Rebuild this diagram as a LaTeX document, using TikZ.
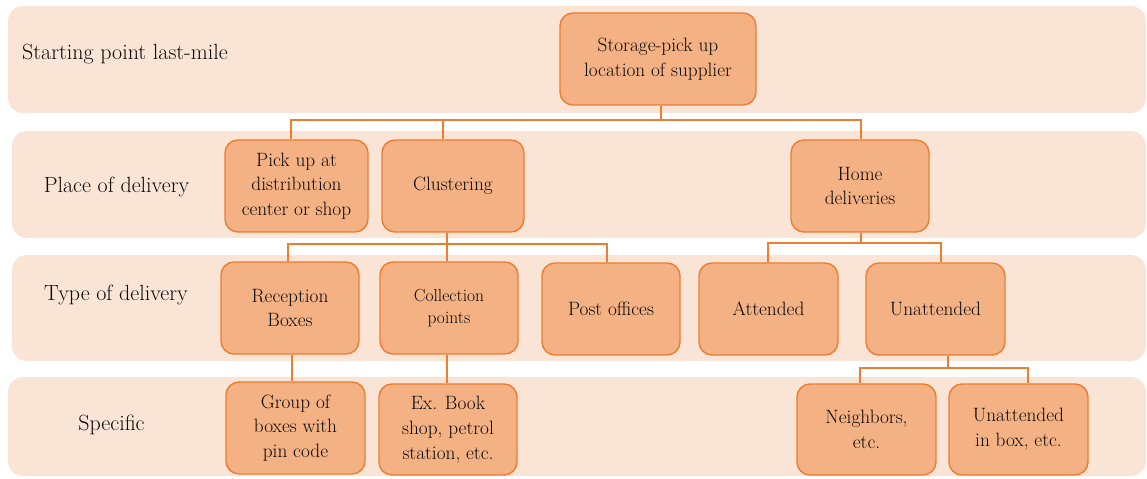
\documentclass[tikz,border=0pt]{standalone}
\definecolor{bandfill}{HTML}{FAE4D6}
\definecolor{nodefill}{HTML}{F4B183}
\definecolor{edgeline}{HTML}{ED7D31}
\definecolor{inktext}{HTML}{0A0A0A}
\begin{document}
\begin{tikzpicture}[x=1bp,y=-1bp,
  band/.style={fill=bandfill, draw=none, rounded corners=15bp},
  box/.style={draw=edgeline, fill=nodefill, line width=1.4bp, rounded corners=13bp,
    inner sep=0pt, align=center, minimum height=92bp, text=inktext,
    font=\fontsize{19.3bp}{24.7bp}\selectfont},
  rowlabel/.style={inner sep=0pt, text=inktext, font=\fontsize{22bp}{26bp}\selectfont},
  conn/.style={draw=edgeline, line width=2bp}]
\useasboundingbox (0,0) rectangle (1147,479);

% level bands
\fill[band] (8,6) rectangle (1146,113);
\fill[band] (12,131) rectangle (1146,238);
\fill[band] (12,255) rectangle (1146,361);
\fill[band] (8,377) rectangle (1146,476);

% row titles
\node[rowlabel, anchor=west] (l1) at (22,54) {Starting point last-mile};
\node[rowlabel] (l2) at (116.5,187) {Place of delivery};
\node[rowlabel] (l3) at (116,295) {Type of delivery};
\node[rowlabel] (l4) at (111.5,425) {Specific};

% boxes
\node[box, minimum width=196bp] (stor) at (658,59) {Storage-pick up\\location of supplier};
\node[box, minimum width=143bp] (pick) at (296.5,186) {Pick up at\\distribution\\center or shop};
\node[box, minimum width=142bp] (clus) at (453,186) {Clustering};
\node[box, minimum width=138bp] (home) at (860,186) {Home\\deliveries};

\node[box, minimum width=138bp] (recv) at (290,308) {Reception\\Boxes};
\node[box, minimum width=138bp, font=\fontsize{17.5bp}{21.7bp}\selectfont] (coll) at (449,308) {Collection\\points};
\node[box, minimum width=138bp] (post) at (611,309) {Post offices};
\node[box, minimum width=139bp] (att) at (768.5,309) {Attended};
\node[box, minimum width=139bp] (unat) at (935.5,309) {Unattended};

\node[box, minimum width=139bp] (grp) at (295.5,428) {Group of\\boxes with\\pin code};
\node[box, minimum width=138bp, minimum height=91bp] (book) at (448,429.5) {Ex. Book\\shop, petrol\\station, etc.};
\node[box, minimum width=139bp, minimum height=91bp] (neigh) at (866.5,429.5) {Neighbors,\\etc.};
\node[box, minimum width=139bp, minimum height=91bp] (unbox) at (1018.5,429.5) {Unattended\\in box, etc.};

% junction points of the buses
\coordinate (b1) at (661,120);
\coordinate (b1p) at (291,120);
\coordinate (b1c) at (443,120);
\coordinate (b1h) at (861,120);

\coordinate (b2) at (447,244);
\coordinate (b2r) at (288,244);
\coordinate (b2p) at (607,244);

\coordinate (b3) at (861,243);
\coordinate (b3a) at (768,243);
\coordinate (b3u) at (941,243);

\coordinate (v1) at (292,0);
\coordinate (v2) at (447,0);

\coordinate (b4) at (948,368);
\coordinate (b4n) at (860,368);
\coordinate (b4u) at (1028,368);

% connectors
\draw[conn] (stor.south -| b1) -- (b1);
\draw[conn] (pick.north -| b1p) -- (b1p) -- (b1h) -- (home.north -| b1h);
\draw[conn] (b1c) -- (clus.north -| b1c);

\draw[conn] (clus.south -| b2) -- (b2);
\draw[conn] (recv.north -| b2r) -- (b2r) -- (b2p) -- (post.north -| b2p);
\draw[conn] (b2) -- (coll.north -| b2);

\draw[conn] (home.south -| b3) -- (b3);
\draw[conn] (att.north -| b3a) -- (b3a) -- (b3u) -- (unat.north -| b3u);

\draw[conn] (recv.south -| v1) -- (grp.north -| v1);
\draw[conn] (coll.south -| v2) -- (book.north -| v2);

\draw[conn] (unat.south -| b4) -- (b4);
\draw[conn] (neigh.north -| b4n) -- (b4n) -- (b4u) -- (unbox.north -| b4u);
\end{tikzpicture}
\end{document}
